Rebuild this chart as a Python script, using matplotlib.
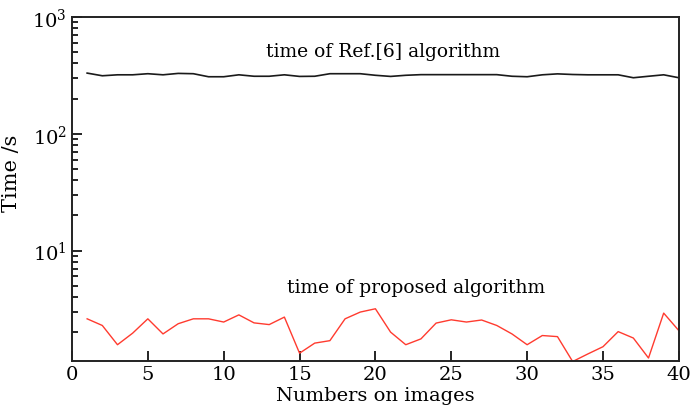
import matplotlib
matplotlib.use("Agg")
import matplotlib.pyplot as plt
from matplotlib.ticker import LogLocator, NullFormatter

images = list(range(1, 41))
ref_time = [331, 314, 320, 320, 327, 320, 329, 327, 308, 308,
            320, 311, 311, 320, 310, 311, 327, 327, 327, 317,
            310, 317, 321, 321, 321, 321, 321, 321, 311, 308,
            320, 326, 322, 320, 320, 320, 302, 311, 320, 302]
proposed_time = [2.60, 2.28, 1.56, 1.96, 2.60, 1.93, 2.36, 2.60, 2.60, 2.44,
                 2.81, 2.40, 2.32, 2.69, 1.32, 1.61, 1.69, 2.60, 2.97, 3.17,
                 2.00, 1.56, 1.75, 2.39, 2.55, 2.44, 2.54, 2.28, 1.93, 1.56,
                 1.87, 1.83, 1.12, 1.30, 1.50, 2.02, 1.78, 1.20, 2.91, 2.06]

plt.rcParams['font.family'] = ['DejaVu Serif']
plt.rcParams['mathtext.fontset'] = 'dejavuserif'

fig = plt.figure(figsize=(6.92, 4.10), dpi=100)
ax = fig.add_axes([0.104, 0.118, 0.877, 0.838])

ax.plot(images, ref_time, color='#1a1a1a', lw=1.2)
ax.plot(images, proposed_time, color='#ff3b2f', lw=1.0)

ax.set_yscale('log')
ax.set_xlim(0, 40)
ax.set_ylim(1.14, 1000)
ax.set_xticks([0, 5, 10, 15, 20, 25, 30, 35, 40])
ax.yaxis.set_major_locator(LogLocator(base=10, numticks=10))
ax.yaxis.set_minor_locator(LogLocator(base=10, subs=range(2, 10), numticks=20))
ax.yaxis.set_minor_formatter(NullFormatter())

ax.tick_params(axis='both', which='both', direction='in', top=False, right=False,
               labelsize=14, colors='black', width=1.2)
ax.tick_params(axis='both', which='major', length=7)
ax.tick_params(axis='y', which='minor', length=4)
for s in ax.spines.values():
    s.set_linewidth(1.4)
    s.set_color('#222222')

ax.set_ylabel('Time /s', fontsize=15)
ax.yaxis.set_label_coords(-0.084, 0.547)
ax.set_xlabel('Numbers on images', fontsize=14, labelpad=2)

ax.text(20.5, 510, 'time of Ref.[6] algorithm', fontsize=13.5, ha='center', va='center')
ax.text(22.7, 4.85, 'time of proposed algorithm', fontsize=13.5, ha='center', va='center')

fig.savefig('out.png', dpi=100)
